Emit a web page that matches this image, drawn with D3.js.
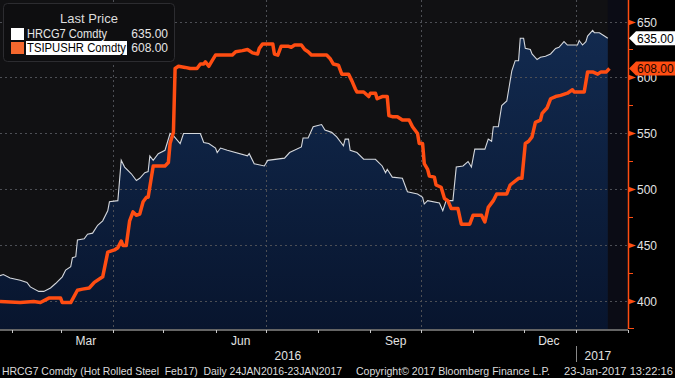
<!DOCTYPE html>
<html>
<head>
<meta charset="utf-8">
<script src="https://cdn.jsdelivr.net/npm/d3@7"></script>
<style>
  body { margin: 0; background: #000; }
  svg { display: block; }
</style>
</head>
<body>
<div id="chart"></div>
<script>
// days counted from 25 Jan 2016 (first bar of the window)
const hrcDays = [0, 2, 6, 12, 16, 18, 23, 26, 30, 33, 37, 39, 42, 43, 45, 46, 50, 52, 55, 58, 61, 64, 65, 70, 72, 74, 78, 81, 83, 86, 88, 89, 91, 94, 98, 101, 103, 107, 109, 119, 121, 124, 128, 129, 131, 135, 147, 148, 151, 157, 159, 169, 172, 179, 180, 183, 186, 191, 193, 197, 200, 204, 205, 207, 208, 212, 216, 223, 227, 229, 230, 233, 239, 242, 248, 251, 252, 254, 261, 263, 265, 269, 271, 275, 278, 280, 282, 288, 290, 292, 293, 296, 298, 301, 304, 306, 308, 309, 311, 312, 315, 316, 319, 321, 324, 327, 330, 332, 335, 337, 343, 344, 346, 348, 349, 352, 353, 356, 359, 361];
const hrcPrice = [423, 424, 421, 419, 417, 413, 409, 409, 412, 416, 422, 428, 431, 439, 440, 455, 456, 460, 461, 468, 472, 481, 489, 490, 526, 520, 514, 508, 510, 515, 516, 530, 526, 532, 535, 550, 548, 541, 550, 550, 542, 541, 537, 533, 537, 535, 530, 532, 523, 521, 526, 528, 533, 538, 546, 546, 556, 558, 553, 551, 547, 539, 545, 545, 535, 533, 527, 527, 521, 515, 518, 511, 510, 498, 496, 493, 487, 490, 488, 481, 490, 490, 520, 521, 525, 520, 536, 536, 545, 543, 556, 556, 575, 579, 606, 615, 615, 635, 635, 626, 625, 621, 616, 618, 619, 621, 626, 627, 632, 629, 629, 633, 629, 632, 637, 642, 640, 640, 637, 635];

const tsiDays = [0, 12, 20, 24, 29, 36, 37, 42, 46, 49, 53, 56, 61, 64, 68, 70, 72, 73, 75, 77, 79, 81, 83, 85, 87, 88, 91, 94, 98, 100, 101, 103, 104, 106, 110, 113, 117, 119, 121, 122, 124, 126, 128, 138, 140, 144, 147, 150, 153, 154, 156, 162, 163, 165, 167, 171, 173, 175, 179, 181, 183, 185, 194, 196, 198, 201, 203, 207, 209, 211, 212, 216, 219, 220, 223, 224, 227, 230, 231, 233, 236, 239, 243, 245, 248, 249, 251, 252, 254, 255, 258, 259, 262, 264, 266, 268, 272, 274, 279, 281, 286, 288, 290, 293, 295, 301, 303, 308, 310, 312, 314, 316, 318, 321, 322, 325, 327, 330, 333, 337, 340, 341, 347, 349, 352, 355, 357, 360, 362];
const tsiPrice = [400, 399, 400, 399, 403, 403, 399, 399, 410, 411, 412, 417, 422, 444, 446, 448, 454, 450, 450, 472, 480, 477, 478, 489, 493, 493, 521, 521, 521, 524, 541, 551, 608, 610, 609, 608, 608, 612, 612, 614, 610, 615, 620, 620, 623, 624, 625, 622, 621, 626, 630, 630, 621, 620, 628, 628, 627, 629, 629, 625, 623, 620, 620, 617, 612, 611, 603, 603, 597, 590, 587, 587, 583, 586, 586, 581, 583, 583, 566, 565, 565, 562, 562, 556, 550, 541, 541, 523, 518, 512, 511, 504, 502, 492, 490, 483, 483, 469, 469, 477, 477, 471, 484, 490, 496, 496, 504, 510, 510, 541, 543, 547, 560, 562, 568, 573, 581, 583, 584, 586, 589, 587, 587, 605, 605, 603, 605, 605, 608];

const priceTicks = [400, 450, 500, 550, 600, 650];
const minorTicks = [425, 475, 525, 575, 625];
const monthLabels = ["Mar", "Jun", "Sep", "Dec"];
const monthLabelDates = ["2016-03-16", "2016-06-16", "2016-09-16", "2016-12-16"];
const legendNames = ["HRCG7 Comdty", "TSIPUSHR Comdty"];
const lastValues = [635.00, 608.00];

const width = 675, height = 378;
const plotW = 628, plotH = 329;
const orange = "#ff4d12";
const font = "'Liberation Sans', Arial, sans-serif";

const start = new Date(2016, 0, 25);
const day = d => d3.timeDay.offset(start, d);
const parse = d3.timeParse("%Y-%m-%d");

const x = d3.scaleTime()
    .domain([start, new Date(2017, 1, 1)])
    .range([0, plotW]);

const y = d3.scaleLinear()
    .domain([375.4, 669.2])
    .range([plotH, 0]);

const hrc = hrcDays.map((d, i) => ({ date: day(d), value: hrcPrice[i] }));
const tsi = tsiDays.map((d, i) => ({ date: day(d), value: tsiPrice[i] }));

const svg = d3.select("#chart")
    .append("svg")
    .attr("width", width)
    .attr("height", height)
    .attr("font-family", font);

svg.append("rect")
    .attr("width", width).attr("height", height)
    .attr("fill", "#000");

const grad = svg.append("defs").append("linearGradient")
    .attr("id", "fillGrad")
    .attr("x1", 0).attr("y1", 0).attr("x2", 0).attr("y2", 1);
grad.append("stop").attr("offset", "0%").attr("stop-color", "#122a4f");
grad.append("stop").attr("offset", "100%").attr("stop-color", "#08152e");

// plot background
svg.append("rect")
    .attr("width", plotW).attr("height", plotH)
    .attr("fill", "#111113");

const lastDate = hrc[hrc.length - 1].date;
svg.append("rect")
    .attr("x", x(lastDate))
    .attr("width", plotW - x(lastDate))
    .attr("height", plotH)
    .attr("fill", "#0b0c15");

// area under HRC
svg.append("path")
    .datum(hrc)
    .attr("fill", "url(#fillGrad)")
    .attr("d", d3.area()
        .x(d => x(d.date))
        .y0(plotH)
        .y1(d => y(d.value)));

// grid
svg.append("g")
    .selectAll("line")
    .data(priceTicks)
    .join("line")
    .attr("x1", 0).attr("x2", plotW)
    .attr("y1", d => Math.round(y(d)) + 0.5)
    .attr("y2", d => Math.round(y(d)) + 0.5)
    .attr("stroke", "#4d4f55")
    .attr("stroke-dasharray", "2,3");

const quarters = d3.timeMonth.every(3).range(new Date(2016, 3, 1), new Date(2017, 0, 2));
svg.append("g")
    .selectAll("line")
    .data(quarters)
    .join("line")
    .attr("x1", d => Math.round(x(d)) + 0.5)
    .attr("x2", d => Math.round(x(d)) + 0.5)
    .attr("y1", 0).attr("y2", plotH)
    .attr("stroke", "#4d4f55")
    .attr("stroke-dasharray", "2,3");

// lines
svg.append("path")
    .datum(hrc)
    .attr("fill", "none")
    .attr("stroke", "#d4d7dc")
    .attr("stroke-width", 1.1)
    .attr("d", d3.line().x(d => x(d.date)).y(d => y(d.value)));

svg.append("path")
    .datum(tsi)
    .attr("fill", "none")
    .attr("stroke", orange)
    .attr("stroke-width", 3.5)
    .attr("stroke-linejoin", "round")
    .attr("d", d3.line().x(d => x(d.date)).y(d => y(d.value)));

// right axis
const axisX = plotW + 0.5;
svg.append("line")
    .attr("x1", axisX).attr("x2", axisX)
    .attr("y1", 0).attr("y2", plotH)
    .attr("stroke", orange).attr("stroke-width", 1.5);
svg.append("line")
    .attr("x1", plotW).attr("x2", plotW + 6)
    .attr("y1", plotH - 0.5).attr("y2", plotH - 0.5)
    .attr("stroke", orange);

svg.append("g")
    .selectAll("line")
    .data(minorTicks)
    .join("line")
    .attr("x1", plotW).attr("x2", plotW + 5)
    .attr("y1", d => Math.round(y(d)) + 0.5)
    .attr("y2", d => Math.round(y(d)) + 0.5)
    .attr("stroke", orange);

const yTick = svg.append("g")
    .selectAll("g")
    .data(priceTicks)
    .join("g")
    .attr("transform", d => `translate(${plotW},${Math.round(y(d)) + 0.5})`);
yTick.append("path")
    .attr("d", "M0,-3L8,0L0,3Z")
    .attr("fill", orange);
yTick.append("text")
    .attr("x", 9)
    .attr("dy", "0.36em")
    .attr("font-size", 12)
    .attr("fill", "#e2e2e2")
    .text(d => d);

// last value tags
const tagFill = ["#ffffff", orange];
const tagText = ["#000", "#1a0500"];
const tags = svg.append("g")
    .selectAll("g")
    .data(lastValues)
    .join("g")
    .attr("transform", d => `translate(${plotW},${y(d)})`);
tags.append("path")
    .attr("d", "M1,0L8,-7L47,-7L47,7L8,7Z")
    .attr("fill", (d, i) => tagFill[i]);
tags.append("text")
    .attr("x", 9)
    .attr("dy", "0.36em")
    .attr("font-size", 12)
    .attr("fill", (d, i) => tagText[i])
    .text(d => d.toFixed(2));

// bottom axis
svg.append("line")
    .attr("x1", 0).attr("x2", plotW)
    .attr("y1", plotH + 1).attr("y2", plotH + 1)
    .attr("stroke", "#c8c8c8");

const months = d3.timeMonth.range(new Date(2016, 1, 1), new Date(2017, 1, 2));
svg.append("g")
    .selectAll("line")
    .data(months)
    .join("line")
    .attr("x1", d => Math.round(x(d)) + 0.5)
    .attr("x2", d => Math.round(x(d)) + 0.5)
    .attr("y1", plotH + 1).attr("y2", plotH + 4)
    .attr("stroke", "#c8c8c8");

svg.append("g")
    .selectAll("text")
    .data(monthLabels)
    .join("text")
    .attr("x", (d, i) => x(parse(monthLabelDates[i])))
    .attr("y", 345)
    .attr("text-anchor", "middle")
    .attr("font-size", 12)
    .attr("fill", "#e2e2e2")
    .text(d => d);

const jan1 = new Date(2017, 0, 1);
svg.append("text")
    .attr("x", x(start) + (x(jan1) - x(start)) / 2)
    .attr("y", 360)
    .attr("text-anchor", "middle")
    .attr("font-size", 12)
    .attr("fill", "#e2e2e2")
    .text("2016");
svg.append("text")
    .attr("x", x(jan1) + (plotW - x(jan1)) / 2 - 4)
    .attr("y", 360)
    .attr("text-anchor", "middle")
    .attr("font-size", 12)
    .attr("fill", "#e2e2e2")
    .text("2017");
svg.append("line")
    .attr("x1", Math.round(x(jan1)) + 0.5).attr("x2", Math.round(x(jan1)) + 0.5)
    .attr("y1", 346).attr("y2", 362)
    .attr("stroke", "#888");

// footer
const footer = [
    { t: "HRCG7 Comdty (Hot Rolled Steel  Feb17)  Daily 24JAN2016-23JAN2017", x: 2, w: 340 },
    { t: "Copyright\u00a9 2017 Bloomberg Finance L.P.", x: 356, w: 194 },
    { t: "23-Jan-2017 13:22:16", x: 564, w: 109 }
];
svg.append("g")
    .selectAll("text")
    .data(footer)
    .join("text")
    .attr("x", d => d.x)
    .attr("y", 375)
    .attr("font-size", 11)
    .attr("fill", "#dcdcdc")
    .attr("textLength", d => d.w)
    .attr("lengthAdjust", "spacingAndGlyphs")
    .style("white-space", "pre")
    .text(d => d.t);

// legend
const legend = svg.append("g");
legend.append("rect")
    .attr("x", 3.5).attr("y", 3.5)
    .attr("width", 171).attr("height", 58)
    .attr("rx", 4)
    .attr("fill", "#0e0e10")
    .attr("stroke", "#2c2c30");
legend.append("text")
    .attr("x", 89).attr("y", 23)
    .attr("text-anchor", "middle")
    .attr("font-size", 13)
    .attr("fill", "#dcdcdc")
    .text("Last Price");

const swatch = ["#ffffff", "#f4682e"];
const rows = legend.selectAll("g.row")
    .data(legendNames)
    .join("g")
    .attr("class", "row")
    .attr("transform", (d, i) => `translate(0,${34 + i * 14})`);
rows.append("rect")
    .attr("x", 11).attr("y", -6)
    .attr("width", 13).attr("height", 12)
    .attr("fill", (d, i) => swatch[i]);
rows.filter((d, i) => i === 1)
    .append("rect")
    .attr("x", 26).attr("y", -7)
    .attr("width", 101).attr("height", 14)
    .attr("fill", "#fff");
rows.append("text")
    .attr("x", 27).attr("dy", "0.36em")
    .attr("font-size", 12)
    .attr("fill", (d, i) => i === 1 ? "#000" : "#e6e6e6")
    .attr("textLength", (d, i) => i === 1 ? 99 : 80)
    .attr("lengthAdjust", "spacingAndGlyphs")
    .text(d => d);
rows.append("text")
    .attr("x", 168).attr("dy", "0.36em")
    .attr("text-anchor", "end")
    .attr("font-size", 12)
    .attr("fill", "#e6e6e6")
    .text((d, i) => lastValues[i].toFixed(2));
</script>
</body>
</html>
